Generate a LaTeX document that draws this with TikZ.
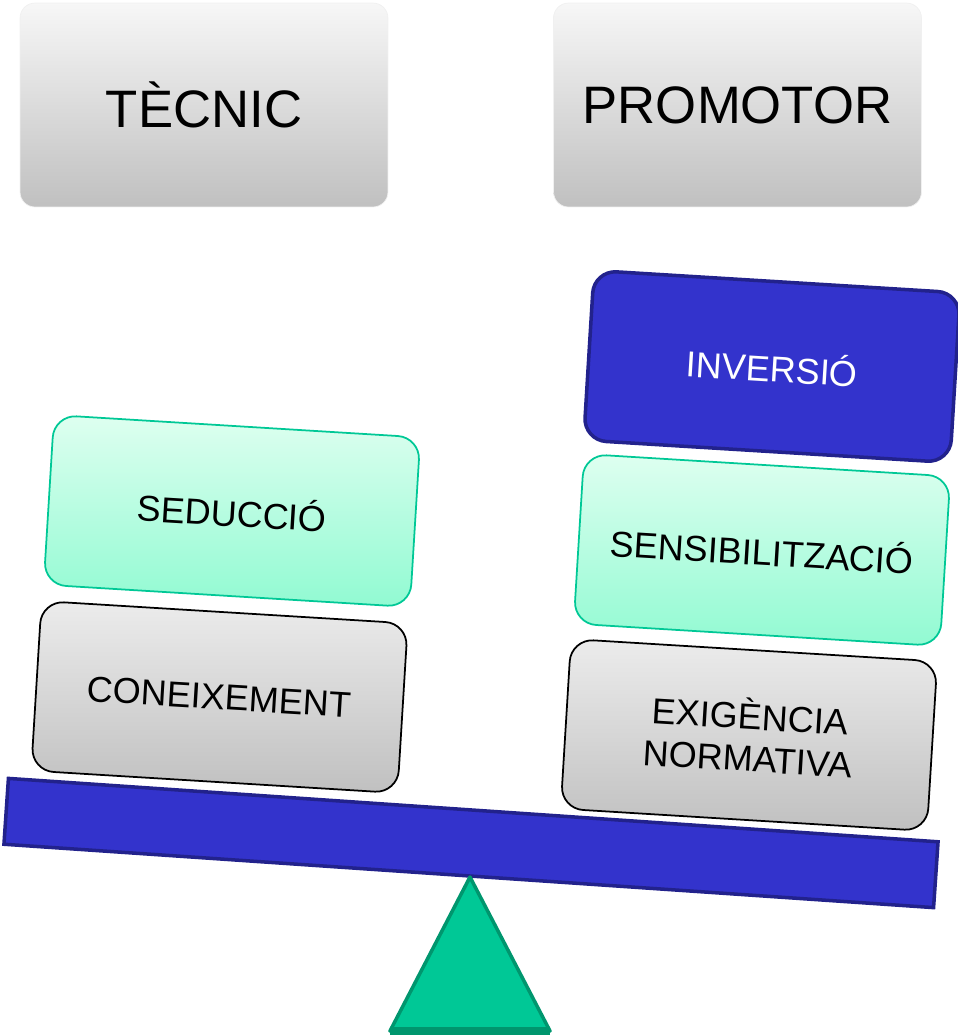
\documentclass[tikz,border=0pt]{standalone}
\usepackage{fontspec}
\setmainfont{Liberation Sans}
\usepackage{xcolor}
\usetikzlibrary{calc}

\definecolor{barblue}{RGB}{51,51,204}
\definecolor{bardark}{RGB}{34,34,140}
\definecolor{mintborder}{RGB}{0,200,150}
\definecolor{minttop}{RGB}{222,255,240}
\definecolor{mintbot}{RGB}{145,250,210}
\definecolor{greytop}{RGB}{247,247,247}
\definecolor{greymid}{RGB}{236,236,236}
\definecolor{greybot}{RGB}{192,192,192}
\definecolor{pivotgreen}{RGB}{0,200,150}
\definecolor{pivotdark}{RGB}{0,150,110}

\tikzset{
	headbox/.style={rounded corners=0.3cm, top color=greytop, bottom color=greybot, draw=gray!12,
		minimum width=7.36cm, minimum height=4.08cm, font=\fontsize{30}{34}\selectfont},
	weightbox/.style={rounded corners=0.45cm, rotate=-3.5, minimum width=7.34cm, minimum height=3.4cm,
		font=\fontsize{20.5}{24}\selectfont, align=center, line width=1pt},
	greyweight/.style={weightbox, draw=black, top color=greymid, bottom color=greybot},
	mintweight/.style={weightbox, draw=mintborder, top color=minttop, bottom color=mintbot},
	blueweight/.style={weightbox, draw=bardark, fill=barblue, text=white, line width=2pt}
}

\begin{document}
\begin{tikzpicture}[x=0.02cm,y=-0.02cm]
		\useasboundingbox (0,0) rectangle (958,1036);
		\node[headbox] (tecnic) at (204,105) {TÈCNIC};
		\node[headbox] (promotor) at (737.5,105) {PROMOTOR};
		\node[mintweight] (seduccio) at (232,511) {SEDUCCIÓ};
		\node[greyweight] (coneixement) at (219.5,697) {CONEIXEMENT};
		\node[blueweight] (inversio) at (772,366.5) {INVERSIÓ};
		\node[mintweight] (sensibilitzacio) at (762,550) {SENSIBILITZACIÓ};
		\node[greyweight] (exigencia) at (749,735) {EXIGÈNCIA\\NORMATIVA};
		\node[draw=bardark, fill=barblue, line width=2pt, rotate=-3.9, inner sep=0pt,
			minimum width=18.64cm, minimum height=1.32cm] (balanca) at (471,843) {};
		\coordinate (apex) at (470,877);
		\coordinate (baseL) at (390,1031);
		\coordinate (baseR) at (550,1031);
		\draw[pivotdark, fill=pivotgreen, line width=2pt, line join=round] (apex) -- (baseR) -- (baseL) -- cycle;
		\draw[pivotdark, line width=4pt] (baseL) -- (baseR);
	\end{tikzpicture}
\end{document}
